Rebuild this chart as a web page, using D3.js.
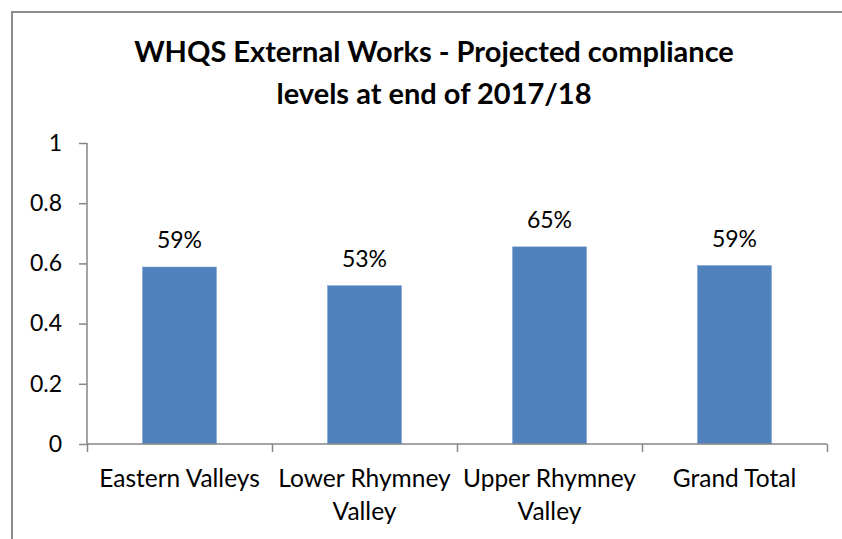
<!DOCTYPE html>
<html>
<head>
<meta charset="utf-8">
<script src="https://cdn.jsdelivr.net/npm/d3@7"></script>
<style>
  body { margin: 0; background: #fff; }
  svg text { font-family: Lato, "Open Sans", sans-serif; fill: #000; }
  .axis path, .axis line { stroke: #868686; stroke-width: 1.5px; }
</style>
</head>
<body>
<div id="chart"></div>
<script>
// data
const categories = ["Eastern Valleys", "Lower Rhymney Valley", "Upper Rhymney Valley", "Grand Total"];
const values = [0.588, 0.526, 0.655, 0.593];
const labels = ["59%", "53%", "65%", "59%"];
const yTicks = [0, 0.2, 0.4, 0.6, 0.8, 1];
const titleLines = ["WHQS External Works - Projected compliance", "levels at end of 2017/18"];

const W = 842, H = 539;
const m = { left: 87, right: 15, top: 143, bottom: 95 };

const svg = d3.select("#chart").append("svg")
  .attr("width", W)
  .attr("height", H);

// chart frame (only top and left edges are visible)
svg.append("path")
  .attr("d", "M12," + H + "V12H" + W)
  .attr("fill", "none")
  .attr("stroke", "#8c8c8c")
  .attr("stroke-width", 2);

const title = svg.append("text")
  .attr("text-anchor", "middle")
  .attr("font-weight", "bold")
  .attr("font-size", 29);
title.selectAll("tspan")
  .data(titleLines)
  .enter()
  .append("tspan")
  .attr("x", 434)
  .attr("y", (d, i) => 62 + i * 42)
  .text(d => d);

const x = d3.scaleBand()
  .domain(categories)
  .range([m.left, W - m.right])
  .paddingInner(0.6)
  .paddingOuter(0.3);

const y = d3.scaleLinear()
  .domain([0, 1])
  .range([H - m.bottom, m.top]);

// y axis
const yAxis = d3.axisLeft(y)
  .tickValues(yTicks)
  .tickSize(8)
  .tickPadding(17)
  .tickFormat(d => d);
svg.append("g")
  .attr("class", "y axis")
  .attr("transform", "translate(" + m.left + ",0)")
  .call(yAxis)
  .call(g => g.select(".domain").attr("d", "M0," + y(1) + "V" + y(0)))
  .selectAll("text")
  .attr("font-size", 23);

// bars
svg.append("g")
  .selectAll("rect")
  .data(values)
  .enter()
  .append("rect")
  .attr("x", (d, i) => x(categories[i]))
  .attr("y", d => y(d))
  .attr("width", x.bandwidth())
  .attr("height", d => y(0) - y(d))
  .attr("fill", "#4f81bd")
  .attr("stroke", "#7a9fd0")
  .attr("stroke-width", 0.5);

// data labels
svg.append("g")
  .selectAll("text")
  .data(values)
  .enter()
  .append("text")
  .attr("x", (d, i) => x(categories[i]) + x.bandwidth() / 2)
  .attr("y", d => y(d) - 19)
  .attr("text-anchor", "middle")
  .attr("font-size", 23)
  .text((d, i) => labels[i]);

// x axis: ticks sit on the category boundaries
const xb = d3.scaleLinear().domain([0, categories.length]).range(x.range());
svg.append("g")
  .attr("class", "x axis")
  .attr("transform", "translate(0," + y(0) + ")")
  .call(d3.axisBottom(xb).ticks(categories.length).tickSize(8).tickSizeOuter(0).tickFormat(""))
  .call(g => g.select(".domain").attr("d", "M" + x.range()[0] + ",0H" + x.range()[1]));

// category labels, wrapped to the band step
const catText = svg.append("g")
  .selectAll("text")
  .data(categories)
  .enter()
  .append("text")
  .attr("text-anchor", "middle")
  .attr("font-size", 24.5)
  .attr("x", d => x(d) + x.bandwidth() / 2)
  .attr("y", 487);

catText.each(function(d) {
  const t = d3.select(this);
  const words = d.split(" ");
  let line = [];
  let tspan = t.append("tspan").attr("x", t.attr("x")).attr("dy", 0);
  words.forEach(w => {
    line.push(w);
    tspan.text(line.join(" "));
    if (tspan.node().getComputedTextLength() > x.step() - 4 && line.length > 1) {
      line.pop();
      tspan.text(line.join(" "));
      line = [w];
      tspan = t.append("tspan").attr("x", t.attr("x")).attr("dy", 33).text(w);
    }
  });
});
</script>
</body>
</html>
